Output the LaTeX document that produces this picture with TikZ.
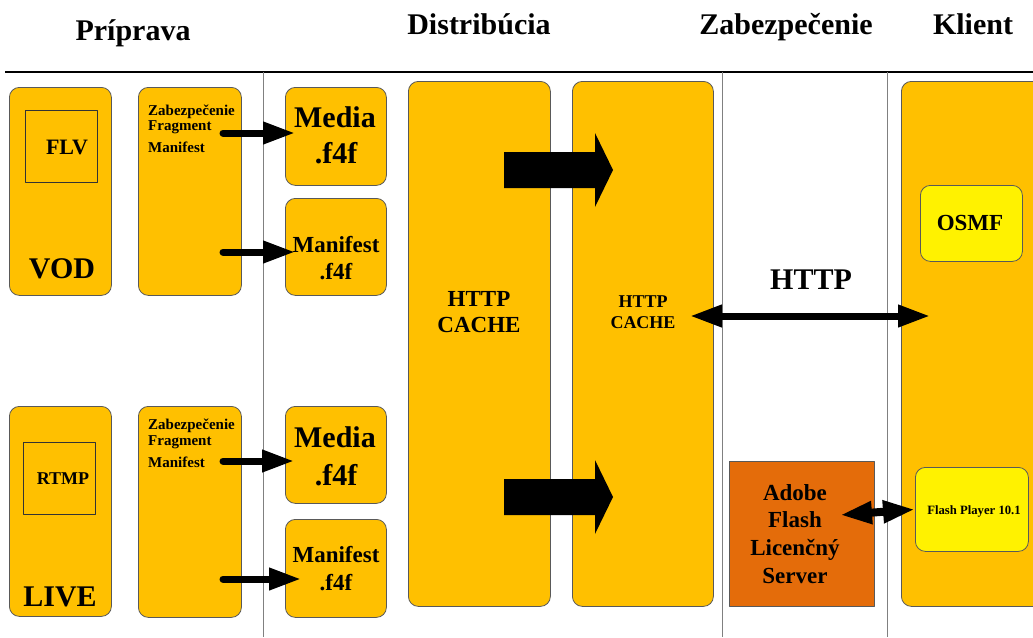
\documentclass[tikz,border=0pt]{standalone}
\usepackage{fontspec}
\setmainfont{Liberation Serif}
\usetikzlibrary{arrows.meta}
\definecolor{gold}{HTML}{FFC000}
\definecolor{flame}{HTML}{E46C0A}
\definecolor{edge}{HTML}{595959}
\begin{document}
\begin{tikzpicture}[x=1pt,y=-1pt,line join=round]
	\tikzset{box/.style={draw=edge,fill=gold,line width=.8pt,rounded corners=10pt,anchor=north west,inner sep=0pt},
		txt/.style={inner sep=0pt},
		pipe/.style={line width=7pt,line cap=round,-{Triangle[length=32pt,width=21pt]}},
		duo/.style={line width=7pt,{Triangle[length=32pt,width=21pt]}-{Triangle[length=32pt,width=21pt]}}}
	\useasboundingbox (0,0) rectangle (1033,637);
	% dividers
	\draw[line width=1.2pt] (5,72)--(1033,72);
	\foreach \x in {263,722,887}
	\draw[gray,line width=1pt] (\x,72)--(\x,637);
	% boxes
	\foreach \n/\x/\y/\w/\h in {vod/9/87/102/208,zabA/138/87/103/208,mediaA/285/87/101/98,maniA/285/198/101/97,
		live/9/406/102/210,zabB/138/406/103/211,mediaB/285/406/101/97,maniB/285/519/101/98,
		cacheA/408/81/142/525,cacheB/572/81/141/525,client/901/81/150/525}
	\node[box,minimum width=\w pt,minimum height=\h pt] (\n) at (\x,\y) {};
	\node[draw=black!80,line width=.8pt,anchor=north west,minimum size=72pt] (flv) at (25,110) {};
	\node[draw=black!80,line width=.8pt,anchor=north west,minimum size=72pt] (rtmp) at (23,442) {};
	\node[box,fill=yellow,minimum width=102pt,minimum height=76pt] (osmf) at (920,185) {};
	\node[box,fill=yellow,minimum width=113pt,minimum height=84pt] (player) at (915,467) {};
	\node[box,fill=flame,rounded corners=0pt,minimum size=145pt] (server) at (729,461) {};
	% texts
	\foreach \x/\y/\s/\a/\t [count=\i] in {133/40/30/base/Príprava,479/34/30/base/Distribúcia,
		786/34/30/base/Zabezpečenie,973/34/30/base/Klient,
		335/127/30/base/Media,336/163/30/base/.f4f,335/447/30/base/Media,336/485/30/base/.f4f,
		62/278/30/base/VOD,60/606/30/base/LIVE,811/289/30/base/HTTP,
		336/252/23/base/Manifest,336/279/23/base/.f4f,336/562/23/base/Manifest,336/590/23/base/.f4f,
		479/306/23/base/HTTP,479/332/23/base/CACHE,970/230/23/base/OSMF,
		795/500/23/base/Adobe,795/527/23/base/Flash,795/555/23/base/Licenčný,795/583/23/base/Server,
		67/154/22/base/FLV,63/484/18/base/RTMP,643/307/18/base/HTTP,643/328/18/base/CACHE,
		148/115/15/base west/Zabezpečenie,148/130/15/base west/Fragment,148/152/15/base west/Manifest,
		148/429/15/base west/Zabezpečenie,148/445/15/base west/Fragment,148/467/15/base west/Manifest,
		974/514/12.7/base/Flash Player 10.1}
	\node[txt,anchor=\a,font=\fontsize{\s}{\s}\selectfont\bfseries] (t\i) at (\x,\y) {\t};
	% arrows
	\coordinate (zA1) at (223,133); \coordinate (mA1) at (295,133);
	\coordinate (zA2) at (223,252); \coordinate (mA2) at (295,252);
	\coordinate (zB1) at (223,461); \coordinate (mB1) at (294,461);
	\coordinate (zB2) at (223,579); \coordinate (mB2) at (301,579);
	\draw[pipe] (zA1)--(mA1);
	\draw[pipe] (zA2)--(mA2);
	\draw[pipe] (zB1)--(mB1);
	\draw[pipe] (zB2)--(mB2);
	\foreach \y in {170,497}
	\fill (504,\y-18)--(595,\y-18)--(595,\y-37)--(613,\y)--(595,\y+37)--(595,\y+18)--(504,\y+18)--cycle;
	\coordinate (hL) at (690,316); \coordinate (hR) at (930,316);
	\draw[duo] (hL)--(hR);
	\coordinate (sL) at (840,515);
	\draw[duo,line width=8pt] (sL)--(player.west);
\end{tikzpicture}
\end{document}
